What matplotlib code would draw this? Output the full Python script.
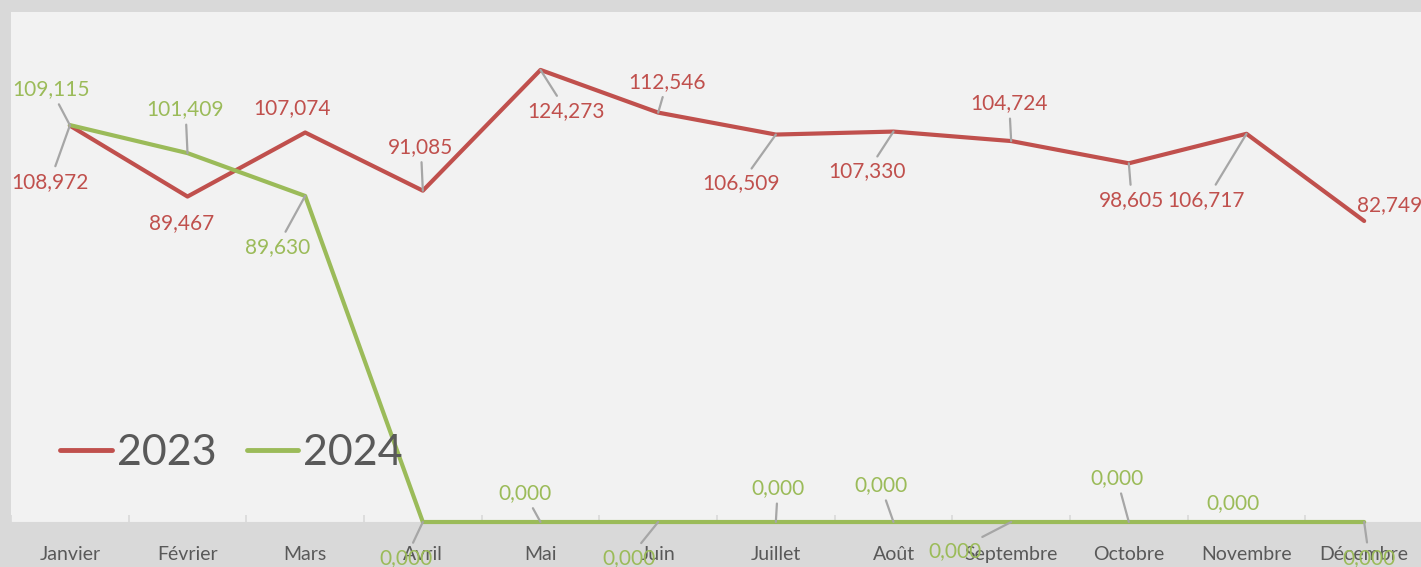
import matplotlib.pyplot as plt
import numpy as np

plt.rcParams['font.family'] = ['Lato', 'DejaVu Sans']

mois = ['Janvier', 'Février', 'Mars', 'Avril', 'Mai', 'Juin', 'Juillet',
        'Août', 'Septembre', 'Octobre', 'Novembre', 'Décembre']
v2023 = [108.972, 89.467, 107.074, 91.085, 124.273, 112.546, 106.509,
         107.330, 104.724, 98.605, 106.717, 82.749]
v2024 = [109.115, 101.409, 89.630, 0, 0, 0, 0, 0, 0, 0, 0, 0]

# Décalages des étiquettes (pixels) et présence d'une ligne de repère.
off2023 = [(-20, -56), (-6, -27), (-13, 24), (-2, 44), (26, -41), (9, 31),
           (-35, -49), (-26, -40), (-2, 38), (3, -37), (-40, -66), (25, 16)]
lead2023 = [1, 0, 0, 1, 1, 1, 1, 1, 1, 1, 1, 0]
off2024 = [(-19, 36), (-2, 44), (-28, -51), (-17, -36), (-16, 29), (-29, -36),
           (2, 34), (-13, 37), (-56, -29), (-12, 44), (-14, 19), (5, -36)]
lead2024 = [1, 1, 1, 1, 1, 1, 1, 1, 1, 1, 0, 1]

ROUGE = '#c0504d'
VERT = '#9bbb59'
GRIS = '#595959'


def fmt(v):
        return f'{v:.3f}'.replace('.', ',')


def etiquettes(ax, x, y, offsets, leaders, color):
        for xi, yi, (dx, dy), lead in zip(x, y, offsets, leaders):
                props = None
                if lead:
                        props = dict(arrowstyle='-', color='#a6a6a6', lw=1.6,
                                     shrinkA=2, shrinkB=0)
                ax.annotate(fmt(yi), xy=(xi, yi), xytext=(dx, dy),
                            textcoords='offset pixels', ha='center', va='center',
                            fontsize=15, color=color, arrowprops=props,
                            annotation_clip=False, zorder=5)


fig = plt.figure(figsize=(14.21, 5.67), dpi=100, facecolor='#d9d9d9')
ax = fig.add_axes([11 / 1421, 45 / 567, 1412 / 1421, 510 / 567])
ax.set_facecolor('#f2f2f2')

x = np.arange(len(mois))
ax.plot(x, v2023, color=ROUGE, lw=3.0, label='2023', solid_joinstyle='round',
        solid_capstyle='round', zorder=3)
ax.plot(x, v2024, color=VERT, lw=3.0, label='2024', solid_joinstyle='round',
        solid_capstyle='round', zorder=3, clip_on=False)

etiquettes(ax, x, v2023, off2023, lead2023, ROUGE)
etiquettes(ax, x, v2024, off2024, lead2024, VERT)

ax.set_xlim(-0.5, 11.5)
ax.set_ylim(0, 140.2)
ax.set_yticks([])
ax.set_xticks(x)
ax.set_xticklabels(mois, fontsize=14, color=GRIS)
ax.tick_params(axis='x', which='major', length=0, pad=17)
ax.set_xticks(np.arange(-0.5, 12, 1), minor=True)
ax.tick_params(axis='x', which='minor', direction='in', length=5, width=1.2,
               color='#d9d9d9')
for s in ['top', 'left', 'right']:
        ax.spines[s].set_visible(False)
ax.spines['bottom'].set_color('#d9d9d9')

leg = ax.legend(loc='center left', bbox_to_anchor=(0.0347, 0.135), ncol=2,
                frameon=False, fontsize=31, handlelength=1.2, handletextpad=0.12,
                columnspacing=0.7, borderpad=0, borderaxespad=0)
for t in leg.get_texts():
        t.set_color(GRIS)
for h in leg.get_lines():
        h.set_linewidth(3.5)

fig.savefig('out.png', dpi=100, facecolor=fig.get_facecolor())
